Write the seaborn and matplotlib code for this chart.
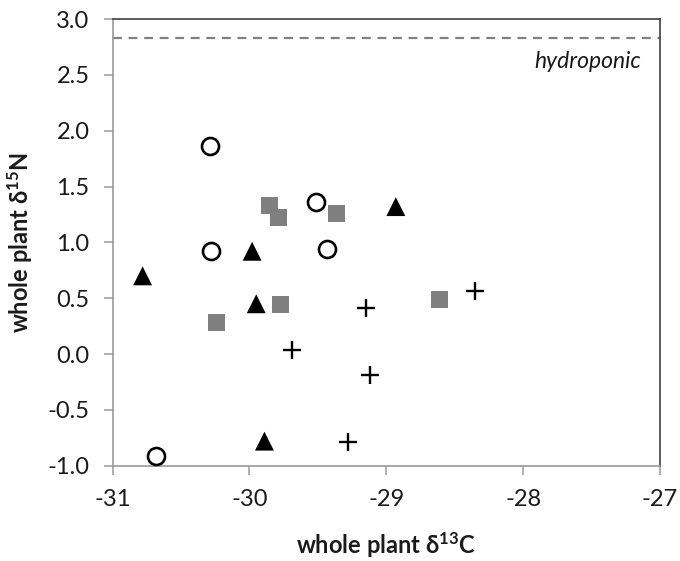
import matplotlib
matplotlib.use("Agg")
import matplotlib.pyplot as plt
import seaborn as sns
import pandas as pd

# --- data ---
circle_x = [-30.29, -30.28, -29.51, -29.43, -30.68]
circle_y = [1.86, 0.92, 1.36, 0.94, -0.91]

triangle_x = [-30.78, -29.98, -29.95, -28.93, -29.89]
triangle_y = [0.70, 0.92, 0.45, 1.32, -0.78]

square_x = [-29.85, -29.79, -29.36, -29.77, -30.24, -28.61]
square_y = [1.33, 1.22, 1.26, 0.44, 0.28, 0.49]

plus_x = [-28.35, -29.15, -29.69, -29.12, -29.28]
plus_y = [0.56, 0.41, 0.04, -0.19, -0.79]

hydroponic_y = 2.83

x_ticks = [-31, -30, -29, -28, -27]
y_ticks = [-1.0, -0.5, 0.0, 0.5, 1.0, 1.5, 2.0, 2.5, 3.0]

sns.set_theme(style="white")
plt.rcParams["font.family"] = ["Lato", "DejaVu Sans"]
plt.rcParams["mathtext.default"] = "regular"

fig = plt.figure(figsize=(6.8, 5.61), dpi=100)
ax = fig.add_axes([112.5 / 680, (561 - 465.7) / 561, (660 - 112.5) / 680, (465.7 - 19) / 561])

df_c = pd.DataFrame({"x": circle_x, "y": circle_y})
df_t = pd.DataFrame({"x": triangle_x, "y": triangle_y})
df_s = pd.DataFrame({"x": square_x, "y": square_y})
df_p = pd.DataFrame({"x": plus_x, "y": plus_y})

sns.scatterplot(data=df_s, x="x", y="y", marker="s", s=150, color="#7f7f7f",
                edgecolor="none", ax=ax, zorder=3)
sns.scatterplot(data=df_t, x="x", y="y", marker="^", s=185, color="black",
                edgecolor="none", ax=ax, zorder=3)
sns.scatterplot(data=df_c, x="x", y="y", marker="o", s=150, facecolor="white",
                edgecolor="black", linewidth=1.9, ax=ax, zorder=3)
sns.scatterplot(data=df_p, x="x", y="y", marker="+", s=155, color="black",
                linewidth=1.7, ax=ax, zorder=3)

ax.axhline(hydroponic_y, color="#808080", linestyle=(0, (4, 3)), linewidth=1.6, zorder=2)
ax.text(-27.14, 2.615, "hydroponic", ha="right", va="center", style="italic",
        fontsize=16.5, color="#1a1a1a")

ax.set_xlim(-31, -27)
ax.set_ylim(-1.0, 3.0)
ax.set_xticks(x_ticks)
ax.set_xticklabels([f"{v:d}" for v in x_ticks])
ax.set_yticks(y_ticks)
ax.set_yticklabels([f"{v:.1f}" for v in y_ticks])

ax.tick_params(axis="both", direction="out", length=6.5, width=1.1, color="#9a9a9a",
               labelsize=17, labelcolor="#1a1a1a", left=True, bottom=True)
ax.tick_params(axis="y", pad=10)
ax.tick_params(axis="x", pad=10)

for side in ["left", "bottom"]:
    ax.spines[side].set_color("#9a9a9a")
    ax.spines[side].set_linewidth(1.2)
for side in ["top", "right"]:
    ax.spines[side].set_color("#404040")
    ax.spines[side].set_linewidth(1.2)
    ax.spines[side].set_visible(True)

ax.set_xlabel("whole plant δ$^{13}$C", fontsize=17, fontweight="bold",
              color="#1a1a1a", labelpad=15)
ax.set_ylabel("whole plant δ$^{15}$N", fontsize=17, fontweight="bold",
              color="#1a1a1a", labelpad=9)

fig.savefig("out.png", dpi=100)
